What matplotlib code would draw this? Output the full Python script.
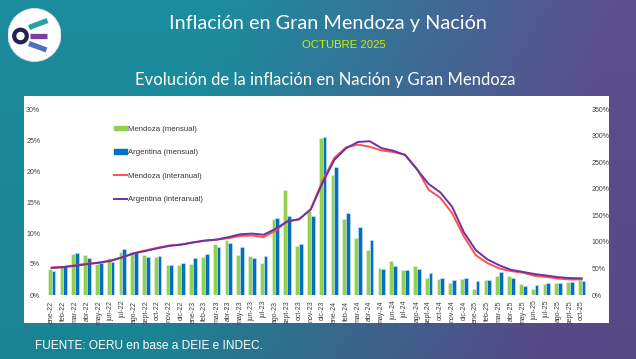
import numpy as np
import matplotlib
matplotlib.use("Agg")
import matplotlib.pyplot as plt
from matplotlib.patches import Rectangle, Circle
from matplotlib.lines import Line2D
from matplotlib.colors import to_rgb

months = ["ene-22", "feb-22", "mar-22", "abr-22", "may-22", "jun-22", "jul-22", "ago-22",
          "sept-22", "oct-22", "nov-22", "dic-22",
          "ene-23", "feb-23", "mar-23", "abr-23", "may-23", "jun-23", "jul-23", "ago-23",
          "sept-23", "oct-23", "nov-23", "dic-23",
          "ene-24", "feb-24", "mar-24", "abr-24", "may-24", "jun-24", "jul-24", "ago-24",
          "sept-24", "oct-24", "nov-24", "dic-24",
          "ene-25", "feb-25", "mar-25", "abr-25", "may-25", "jun-25", "jul-25", "ago-25",
          "sept-25", "oct-25"]

mendoza_mensual = [4.2, 4.5, 6.6, 6.5, 5.0, 5.9, 7.0, 7.0, 6.5, 6.2, 4.9, 4.8,
                   5.0, 6.2, 8.3, 8.9, 6.4, 6.3, 5.2, 12.2, 16.9, 7.9, 13.5, 25.3,
                   19.4, 12.2, 9.2, 7.3, 4.4, 5.5, 4.0, 4.6, 2.7, 2.6, 2.0, 2.6,
                   1.0, 2.4, 3.1, 3.1, 1.7, 1.0, 1.8, 2.0, 2.1, 2.4]

argentina_mensual = [3.9, 4.7, 6.7, 6.0, 5.1, 5.3, 7.4, 7.0, 6.2, 6.3, 4.9, 5.1,
                     6.0, 6.6, 7.7, 8.4, 7.8, 6.0, 6.3, 12.4, 12.7, 8.3, 12.8, 25.5,
                     20.6, 13.2, 11.0, 8.8, 4.2, 4.6, 4.0, 4.2, 3.5, 2.7, 2.4, 2.7,
                     2.2, 2.4, 3.7, 2.8, 1.5, 1.6, 1.9, 1.9, 2.1, 2.3]

mendoza_interanual = [52, 53, 56, 59, 61, 65, 71, 79, 84, 89, 93, 95,
                      99, 102, 104, 107, 111, 112, 109, 121, 139, 142, 162, 215,
                      258, 278, 283, 279, 272, 269, 264, 238, 198, 183, 154, 110,
                      75, 60, 50, 45, 42, 36, 34, 31, 29, 29.5]

argentina_interanual = [50.7, 52.3, 55.1, 58.0, 60.7, 64.0, 71.0, 78.5, 83.0, 88.0, 92.4, 94.8,
                        98.8, 102.5, 104.3, 108.8, 114.2, 115.6, 113.4, 124.4, 138.3, 142.7, 160.9, 211.4,
                        254.2, 276.2, 287.9, 289.4, 276.4, 271.5, 263.4, 236.7, 209.0, 193.0, 166.0, 117.8,
                        84.5, 66.9, 55.9, 47.3, 43.5, 39.4, 36.6, 33.6, 31.8, 31.3]

left_ticks = [0, 5, 10, 15, 20, 25, 30]
right_ticks = [0, 50, 100, 150, 200, 250, 300, 350]

W, H = 636, 359
fig = plt.figure(figsize=(W / 100, H / 100), dpi=100)

# background gradient
bg = fig.add_axes([0, 0, 1, 1])
bg.set_axis_off()
teal = np.array(to_rgb("#1c8d9e"))
purple = np.array(to_rgb("#5d4e90"))
xs = np.linspace(0, 1, 400)
ys = np.linspace(0, 1, 200)
X, Y = np.meshgrid(xs, ys)
t = np.clip((X - 0.35 + 0.12 * (1 - Y)) / 0.62, 0, 1)
img = teal[None, None, :] * (1 - t[..., None]) + purple[None, None, :] * t[..., None]
img = img * (0.93 + 0.07 * Y[..., None])
bg.imshow(img, extent=[0, 1, 0, 1], aspect="auto", origin="lower")
bg.set_xlim(0, 1)
bg.set_ylim(0, 1)

def fx(px):
    return px / W

def fy(py):
    return 1 - py / H

# white panel
bg.add_patch(Rectangle((fx(24), fy(323)), fx(609) - fx(24), fy(96) - fy(323),
                       facecolor="white", edgecolor="none", zorder=2))

# logo (square axes, 54x54 px, top-left at px (8, 8))
logo = fig.add_axes([fx(7.5), fy(62), 54 / W, 54 / H])
logo.set_axis_off()
logo.set_xlim(0, 54)
logo.set_ylim(0, 54)
logo.add_patch(Circle((27, 27), 26.5, facecolor="white", edgecolor="#d8dde8", linewidth=0.6))
logo.add_patch(Circle((13, 26), 6.3, facecolor="white", edgecolor="#25224f", linewidth=3.0))
logo.plot([21.5, 40], [34.5, 41.5], color="#2a9fa8", lw=3.8, solid_capstyle="butt")
logo.plot([23, 40], [26.5, 26.5], color="#7a3ea0", lw=3.8, solid_capstyle="butt")
logo.plot([21.5, 39], [18.5, 12], color="#4f6fbf", lw=3.8, solid_capstyle="butt")

# titles
fig.text(fx(327.5), fy(24), "Inflación en Gran Mendoza y Nación", color="white",
         fontsize=14.3, family="Lato", ha="center", va="center")
fig.text(fx(344), fy(45), "OCTUBRE 2025", color="#c8f000",
         fontsize=8.2, family=["Liberation Sans Narrow", "Liberation Sans"], ha="center", va="center")
fig.text(fx(325), fy(80), "Evolución de la inflación en Nación y Gran Mendoza", color="white",
         fontsize=12, family="Lato", ha="center", va="center")
fig.text(fx(35), fy(346), "FUENTE: OERU en base a DEIE e INDEC.", color="white",
         fontsize=8.6, family="Liberation Sans", ha="left", va="center")

# chart axes
x0 = 51.7 - 0.5 * 11.78
x1 = 581.7 + 0.5 * 11.78
ax = fig.add_axes([fx(x0), fy(295), fx(x1) - fx(x0), fy(109) - fy(295)])
ax.patch.set_alpha(0)
x = np.arange(len(months))
bw = 0.32
ax.bar(x - bw / 2, mendoza_mensual, width=bw, color="#92d050", edgecolor="#e6f5d8",
       linewidth=0.4, label="Mendoza (mensual)", zorder=2)
ax.bar(x + bw / 2, argentina_mensual, width=bw, color="#0070c0", edgecolor="#cfe3f3",
       linewidth=0.4, label="Argentina (mensual)", zorder=2)
ax.set_xlim(-0.5, len(months) - 0.5)
ax.set_ylim(0, 30)
ax.set_yticks(left_ticks)
ax.set_yticklabels([f"{v}%" for v in left_ticks], family="Liberation Sans")
ax.set_xticks(x)
ax.set_xticklabels(months, rotation=90, family="Liberation Sans")
ax.tick_params(axis="both", length=0, labelsize=5, colors="#404040")
ax.tick_params(axis="y", pad=4)
ax.tick_params(axis="x", pad=4)
for s in ax.spines.values():
    s.set_visible(False)

ax2 = ax.twinx()
ax2.plot(x, mendoza_interanual, color="#ff5050", lw=1.4, zorder=3, label="Mendoza (interanual)")
ax2.plot(x, argentina_interanual, color="#7030a0", lw=1.4, zorder=4, label="Argentina (interanual)")
ax2.set_ylim(0, 350)
ax2.set_yticks(right_ticks)
ax2.set_yticklabels([f"{v}%" for v in right_ticks], family="Liberation Sans")
ax2.tick_params(axis="y", length=0, labelsize=5, colors="#404040", pad=3)
for s in ax2.spines.values():
    s.set_visible(False)

handles = [Rectangle((0, 0), 1, 1, color="#92d050"),
           Rectangle((0, 0), 1, 1, color="#0070c0"),
           Line2D([0], [0], color="#ff5050", lw=1.4),
           Line2D([0], [0], color="#7030a0", lw=1.4)]
labels = ["Mendoza (mensual)", "Argentina (mensual)", "Mendoza (interanual)", "Argentina (interanual)"]
fig.legend(handles, labels, loc="upper left", bbox_to_anchor=(fx(114), fy(125.5)),
           frameon=False, prop={"family": "Liberation Sans", "size": 5.6},
           labelspacing=2.1, handlelength=1.7,
           handleheight=0.6, handletextpad=0.1, borderaxespad=0, borderpad=0,
           labelcolor="#333333")

fig.savefig("out.png", dpi=100)
